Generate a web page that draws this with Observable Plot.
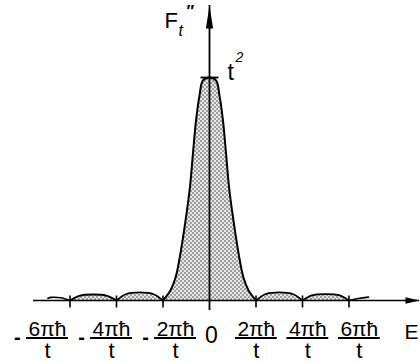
<!DOCTYPE html>
<html><head><meta charset="utf-8">
<script src="https://cdn.jsdelivr.net/npm/d3@7"></script>
<script src="https://cdn.jsdelivr.net/npm/@observablehq/plot@0.6"></script>
<style>
html,body{margin:0;padding:0;background:#fff;}
#chart svg{display:block;font-family:"Liberation Sans",Arial,sans-serif;}
</style></head><body><div id="chart"></div>
<script>
// ---- data (E in units of πħ/t, F in units of t²) ----
const mainE = [-2, -1.68, -1.46, -1.25, -1.03, -0.84, -0.71, -0.58, -0.43, -0.28, 0, 0.28, 0.43, 0.58, 0.71, 0.84, 1.03, 1.25, 1.46, 1.68, 2];
const mainF = [0, 0.045, 0.103, 0.211, 0.359, 0.509, 0.661, 0.807, 0.919, 0.987, 1, 0.987, 0.919, 0.807, 0.661, 0.509, 0.359, 0.211, 0.103, 0.045, 0];
const sideE = [-6, -5.6, -5, -4.4, -4,  -4, -3.6, -3, -2.4, -2,  2, 2.4, 3, 3.6, 4,  4, 4.4, 5, 5.6, 6];
const sideF = [0, 0.021, 0.027, 0.021, 0,  0, 0.028, 0.036, 0.028, 0,  0, 0.028, 0.036, 0.028, 0,  0, 0.023, 0.029, 0.023, 0];
const sideLobe = ["L2","L2","L2","L2","L2","L1","L1","L1","L1","L1","R1","R1","R1","R1","R1","R2","R2","R2","R2","R2"];
const tailE = [-6.95, -6.8, -6.4, -6,  6, 6.4, 6.84];
const tailF = [0.010, 0.014, 0.012, 0,  0, 0.009, 0.015];
const tailSide = ["L","L","L","L","R","R","R"];
const tickValues = [-6, -4, -2, 2, 4, 6];
const tickNumerators = ["6πħ", "4πħ", "2πħ", "2πħ", "4πħ", "6πħ"];
const tickDenominator = "t";
const peakValue = 1;
const peakLabel = "t";
const peakExponent = "2";
const xLabel = "E";
const yLabel = "F";
const yLabelSub = "t";
const yLabelMark = "″";
const zeroLabel = "0";

// ---- layout ----
const pxX = 23.25, pxY = 223, x0 = 209, y0 = 300;
const xDomain = [-x0 / pxX, (420 - x0) / pxX];
const yDomain = [-(363 - y0) / pxY, y0 / pxY];
const xAxisStart = (33 - x0) / pxX, xAxisEnd = (419 - x0) / pxX;
const yAxisStart = -10 / pxY, yAxisEnd = (y0 - 5) / pxY;
const labelX = d => d < 0 ? 1.3775 * d + 1.295 : 1.1075 * d - 0.2;

const mainData = mainE.map((e, i) => ({E: e, F: mainF[i]}));
const sideData = sideE.map((e, i) => ({E: e, F: sideF[i], lobe: sideLobe[i]}));
const tailData = tailE.map((e, i) => ({E: e, F: tailF[i], side: tailSide[i]}));
const ticks = tickValues.map((v, i) => ({v, num: tickNumerators[i]}));

const sym = f => ({draw(ctx) { f(ctx); }});
const arrowRight = sym(c => { c.moveTo(0, 0); c.lineTo(-14, -3.3); c.lineTo(-14, 3.3); c.closePath(); });
const arrowUp = sym(c => { c.moveTo(0, 0); c.lineTo(-3.6, 23); c.lineTo(3.6, 23); c.closePath(); });
const vTick = sym(c => { c.moveTo(0, -5); c.lineTo(0, 7); });
const hTick = sym(c => { c.moveTo(-9, 0); c.lineTo(9, 0); });

const svg = Plot.plot({
  width: 420, height: 363,
  marginLeft: 0, marginRight: 0, marginTop: 0, marginBottom: 0,
  x: {domain: xDomain, axis: null},
  y: {domain: yDomain, axis: null},
  style: {background: "#fff", overflow: "visible"},
  marks: [
    Plot.areaY(mainData, {x: "E", y: "F", fill: "url(#dots)", curve: "catmull-rom"}),
    Plot.areaY(sideData, {x: "E", y: "F", z: "lobe", fill: "url(#dots)", curve: "catmull-rom"}),
    Plot.ruleY([0], {x1: xAxisStart, x2: xAxisEnd, stroke: "#000", strokeWidth: 1.6}),
    Plot.ruleX([0], {y1: yAxisStart, y2: yAxisEnd, stroke: "#000", strokeWidth: 1.8}),
    Plot.line(mainData, {x: "E", y: "F", stroke: "#000", strokeWidth: 2, curve: "catmull-rom"}),
    Plot.line(sideData, {x: "E", y: "F", z: "lobe", stroke: "#000", strokeWidth: 1.8, curve: "catmull-rom"}),
    Plot.line(tailData, {x: "E", y: "F", z: "side", stroke: "#000", strokeWidth: 1.6, curve: "catmull-rom"}),
    Plot.dot(tickValues, {x: d => d, y: 0, symbol: vTick, stroke: "#000", fill: "none", strokeWidth: 1.6}),
    Plot.dot([peakValue], {x: 0, y: d => d, symbol: hTick, stroke: "#000", fill: "none", strokeWidth: 1.8}),
    Plot.dot([xAxisEnd], {x: d => d, y: 0, symbol: arrowRight, fill: "#000", stroke: "none"}),
    Plot.dot([yAxisEnd], {x: 0, y: d => d, symbol: arrowUp, fill: "#000", stroke: "none"}),
    // tick labels
    Plot.text(ticks, {x: d => labelX(d.v), y: 0, text: "num", dy: 35, lineAnchor: "bottom", fontSize: 21, fill: "#000", style: "letter-spacing:1px"}),
    Plot.ruleY(ticks, {y: 0, x1: d => labelX(d.v) - 0.9, x2: d => labelX(d.v) + 0.9, dy: 37.5, stroke: "#000", strokeWidth: 2}),
    Plot.text(ticks, {x: d => labelX(d.v), y: 0, text: () => tickDenominator, dy: 57, lineAnchor: "bottom", fontSize: 22, fill: "#000"}),
    Plot.text(ticks.filter(d => d.v < 0), {x: d => labelX(d.v), y: 0, text: () => "-", dx: -30, dy: 37.5, lineAnchor: "middle", fontSize: 20, fontWeight: "bold", fill: "#000"}),
    Plot.text([zeroLabel], {x: 0, y: 0, text: d => d, dx: 2, dy: 42, lineAnchor: "bottom", fontSize: 23, fill: "#000"}),
    Plot.text([xLabel], {x: xAxisEnd, y: 0, text: d => d, dx: -15, dy: 38, textAnchor: "start", lineAnchor: "bottom", fontSize: 21, fill: "#000"}),
    // peak label
    Plot.text([peakLabel], {x: 0, y: peakValue, text: d => d, dx: 18, dy: 2, textAnchor: "start", lineAnchor: "bottom", fontSize: 23, fill: "#000"}),
    Plot.text([peakExponent], {x: 0, y: peakValue, text: d => d, dx: 26, dy: -16, textAnchor: "start", lineAnchor: "bottom", fontSize: 14, fill: "#000", fontStyle: "italic"}),
    // y axis label
    Plot.text([yLabel], {x: 0, y: yAxisEnd, text: d => d, dx: -45, dy: 22, textAnchor: "start", lineAnchor: "bottom", fontSize: 22, fill: "#000"}),
    Plot.text([yLabelSub], {x: 0, y: yAxisEnd, text: d => d, dx: -31, dy: 30, textAnchor: "start", lineAnchor: "bottom", fontSize: 16, fontStyle: "italic", fill: "#000"}),
    Plot.text([yLabelMark], {x: 0, y: yAxisEnd, text: d => d, dx: -23, dy: 11, textAnchor: "start", lineAnchor: "bottom", fontSize: 16, fontWeight: "bold", fill: "#000"})
  ]
});

const defs = document.createElementNS("http://www.w3.org/2000/svg", "defs");
defs.innerHTML = '<pattern id="dots" width="4" height="4" patternUnits="userSpaceOnUse">' +
  '<rect width="4" height="4" fill="#e6e6e6"/>' +
  '<rect x="0.3" y="0.3" width="1.4" height="1.4" fill="#555"/>' +
  '<rect x="2.3" y="2.3" width="1.4" height="1.4" fill="#555"/></pattern>';
svg.prepend(defs);
document.getElementById("chart").appendChild(svg);
</script>
</body></html>
